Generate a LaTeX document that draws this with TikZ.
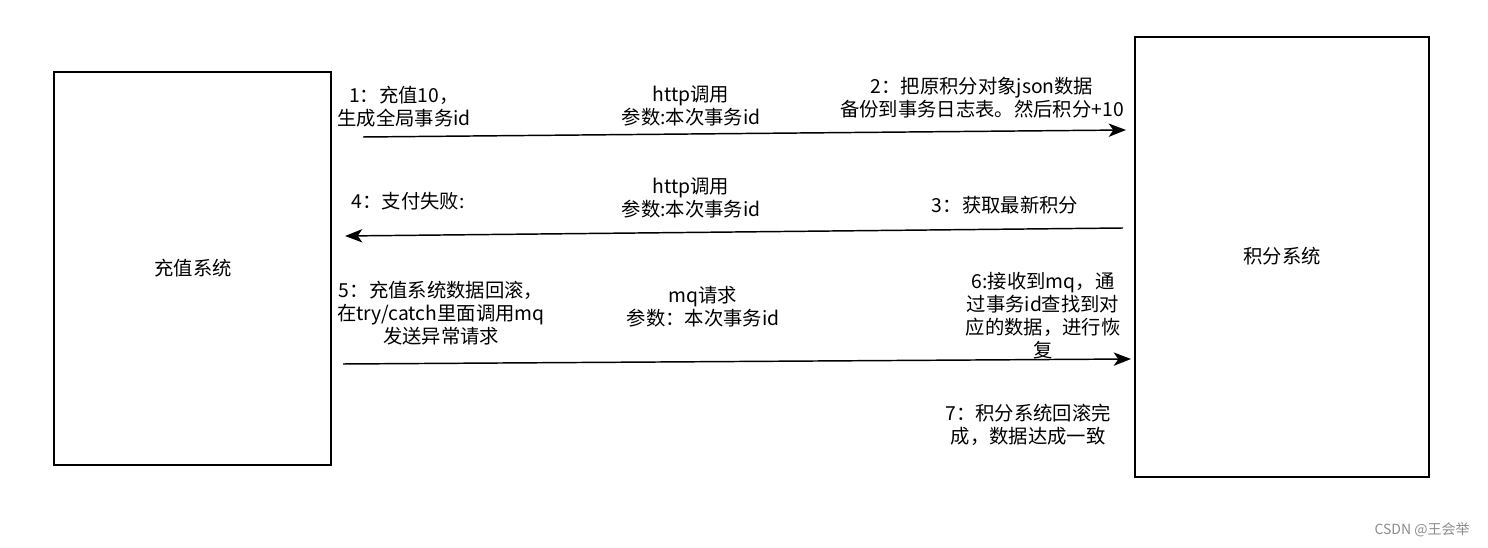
\documentclass[tikz,border=0pt]{standalone}
\usepackage{fontspec}
\setmainfont{Noto Sans CJK SC}
\usetikzlibrary{arrows.meta}

\tikzset{
  sysbox/.style={draw, line width=1.1pt},
  msg/.style={align=center, font=\fontsize{14.5}{17.3}\selectfont, inner sep=0pt},
  call/.style={line width=1.1pt, -{Stealth[length=13pt,width=10pt,inset=3.5pt]}}
}

\begin{document}
\begin{tikzpicture}[x=0.75pt,y=-0.75pt]
\useasboundingbox (0,0) rectangle (1488,548);
% the two systems
\draw [sysbox] (54,72) rectangle (331,465);
\draw [sysbox] (1135,37) rectangle (1429,477);
\node [msg] (recharge) at (193,268) {充值系统};
\node [msg] (points) at (1282,256) {积分系统};

% arrow ends
\coordinate (c1s) at (363,137);
\coordinate (c1e) at (1126,130);
\coordinate (c4s) at (1123,228);
\coordinate (c4e) at (345,236);
\coordinate (c5s) at (343,364);
\coordinate (c5e) at (1131,359);

\draw [call] (c1s) -- (c1e);
\draw [call] (c4s) -- (c4e);
\draw [call] (c5s) -- (c5e);

% step labels
\node [msg] (step1) at (404,107) {1：充值10，\\生成全局事务id};
\node [msg] (http1) at (691,106) {http调用\\参数:本次事务id};
\node [msg] (step2) at (982,98) {2：把原积分对象json数据\\备份到事务日志表。然后积分+10};
\node [msg] (step4) at (408,201) {4：支付失败:};
\node [msg] (http2) at (691,198) {http调用\\参数:本次事务id};
\node [msg] (step3) at (1005,205) {3：获取最新积分};
\node [msg] (step5) at (441,313) {5：充值系统数据回滚，\\在try/catch里面调用mq\\发送异常请求};
\node [msg] (mqreq) at (703,307) {mq请求\\参数：本次事务id};
\node [msg] (step6) at (1043,316) {6:接收到mq，通\\过事务id查找到对\\应的数据，进行恢\\复};
\node [msg] (step7) at (1028,425) {7：积分系统回滚完\\成，数据达成一致};

\node [text=black!45, font=\fontsize{10.5}{12}\selectfont, inner sep=0pt] (mark) at (1422,530) {CSDN @王会举};
\end{tikzpicture}
\end{document}
